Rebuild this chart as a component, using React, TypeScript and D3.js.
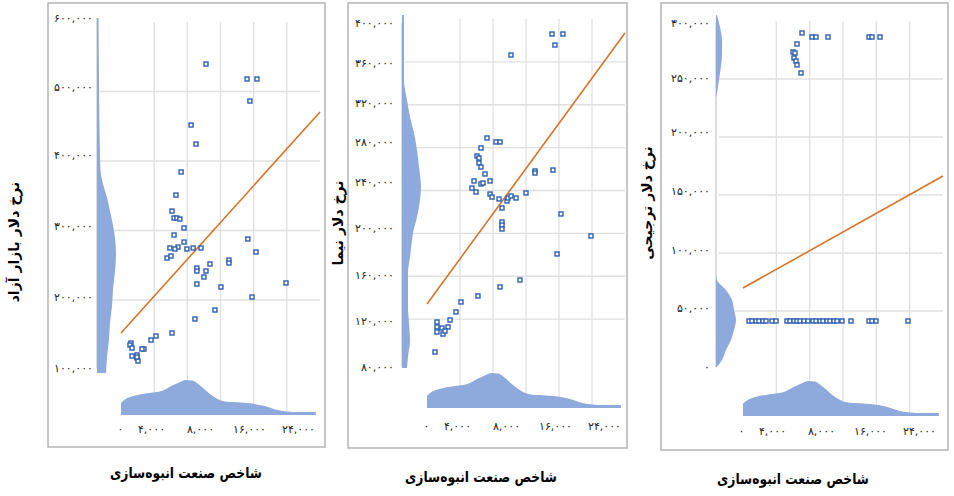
import React, { useEffect, useRef } from "react";
import * as d3 from "d3";

// shared x variable: mass-housing industry index
const xTitle = "شاخص صنعت انبوه‌سازی";
const xTickValues = [0, 4000, 8000, 16000, 24000];

// bottom marginal density of the index [index, density]
const indexDensity: [number, number][] = [
  [0, 12], [600, 16], [1600, 19], [3200, 21.5], [5000, 24], [6200, 29], [7000, 32],
  [7800, 34.5], [8600, 34], [9400, 30], [10400, 23], [11400, 17], [12400, 13.5],
  [14000, 12.5], [15600, 11.5], [17200, 9], [18600, 5.5], [20000, 3.5], [21500, 3], [23500, 3],
];

// panel 1: free market dollar rate
const freeTicks = [100000, 200000, 300000, 400000, 500000, 600000];
const freePoints: [number, number][] = [
  [10250, 539500], [15200, 518000], [16400, 518000], [15550, 486300], [8450, 451800],
  [9050, 424400], [7250, 384200], [6630, 351000], [6150, 328000], [6400, 318000],
  [6750, 318000], [7100, 316500], [7600, 303600], [6400, 293500], [7600, 283400],
  [5900, 274800], [6870, 276200], [6500, 273400], [7950, 273400], [8700, 274800],
  [9650, 274800], [5550, 260400], [6030, 263300], [9150, 246000], [9150, 241700],
  [10730, 251800], [10250, 241700], [10000, 233100], [9150, 223000], [12050, 218700],
  [13020, 257500], [13020, 253200], [15300, 287800], [16280, 269100], [19900, 224500],
  [15800, 204300], [11330, 185600], [8920, 172700], [6150, 152500], [4220, 148200],
  [3620, 142400], [2770, 129500], [2530, 129500], [1200, 138100], [1080, 135200],
  [1330, 130900], [1330, 119400], [1930, 120900], [1930, 116500], [2050, 112200],
  [1930, 118000],
];
const freeTrend: [number, number][] = [[0, 152500], [24000, 470500]];
const freeDensity: [number, number][] = [
  [93000, 9], [116000, 10], [140000, 12], [164000, 13], [187000, 15], [211000, 16],
  [236000, 18], [259000, 19], [283000, 18], [301000, 16], [321000, 13], [340000, 10],
  [359000, 6], [379000, 3.5], [397000, 3], [510000, 2], [600000, 1.5],
];

// panel 2: NIMA dollar rate
const nimaTicks = [80000, 120000, 160000, 200000, 240000, 280000, 320000, 360000, 400000];
const nimaPoints: [number, number][] = [
  [15150, 386000], [16480, 386000], [15510, 375700], [10180, 366400], [7270, 289000],
  [8360, 285300], [8850, 285300], [6540, 279700], [6060, 272200], [6300, 270300],
  [6300, 265700], [6540, 261900], [7030, 255400], [5700, 248900], [7640, 248900],
  [6540, 246100], [6790, 247000], [5450, 242300], [5940, 238600], [7640, 236700],
  [7880, 233900], [8730, 232100], [9090, 223700], [9700, 230200], [9820, 233000],
  [10180, 234900], [10790, 233000], [12000, 237700], [13090, 258200], [13090, 256300],
  [15270, 259100], [16240, 218100], [9090, 210600], [9090, 207800], [9090, 204100],
  [19880, 197600], [15760, 180800], [11270, 156500], [8850, 150000], [6180, 141600],
  [4120, 136000], [3510, 126700], [2790, 119200], [2550, 112700], [1210, 117300],
  [1210, 112700], [1210, 108000], [1820, 111700], [1940, 106100], [2180, 108900],
  [970, 89300],
];
const nimaTrend: [number, number][] = [[0, 134100], [24000, 386900]];
const nimaDensity: [number, number][] = [
  [79100, 5], [88600, 6], [103400, 8], [118100, 7], [131900, 6], [146600, 6],
  [161300, 6], [175100, 8], [189800, 10], [195900, 11], [209700, 15], [224400, 18],
  [235700, 19], [255100, 17], [272200, 15], [289300, 12], [305400, 8], [322500, 5],
  [342600, 2], [408000, 2],
];

// panel 3: preferential dollar rate
const prefTicks = [0, 50000, 100000, 150000, 200000, 250000, 300000];
const prefPoints: [number, number][] = [
  [7080, 289700], [8280, 286200], [8760, 286200], [10200, 286200], [15120, 286200],
  [15480, 286200], [16440, 286200], [6480, 280200], [6000, 273300], [6240, 272400],
  [6120, 268100], [6360, 265500], [6480, 262100], [6960, 255200],
  [720, 41400], [1080, 41400], [1560, 41400], [1920, 41400], [2400, 41400],
  [2760, 41400], [3480, 41400], [3960, 41400], [5280, 41400], [5640, 41400],
  [6120, 41400], [6480, 41400], [6840, 41400], [7320, 41400], [7800, 41400],
  [8400, 41400], [8760, 41400], [9240, 41400], [9600, 41400], [10080, 41400],
  [10440, 41400], [10920, 41400], [11280, 41400], [11880, 41400], [12960, 41400],
  [15120, 41400], [15480, 41400], [15960, 41400], [19800, 41400],
];
const prefTrend: [number, number][] = [[0, 69800], [24000, 166400]];
const prefDensity: [number, number][] = [
  [0, 1], [6000, 6], [14500, 10], [23000, 15], [31500, 18], [40000, 20], [48500, 18],
  [57000, 16], [65500, 10], [74000, 1], [80000, 0], [230000, 0], [236000, 1],
  [248000, 3], [260000, 5], [272000, 6], [284000, 6], [296000, 4], [307000, 1],
];

const panels = [
  {
    title: "نرخ دلار بازار آزاد", ticks: freeTicks, points: freePoints, trend: freeTrend, density: freeDensity,
    frame: [48, 3, 325, 447], titleX: 15, titleY: 242, xTitleX: 186, xTitleY: 473,
    x: [121, 320], y: [369.5, 22], labelBreak: 400000, labelY: [368, 155, 18], labelRight: 93,
    sideLeft: 97, sideMax: 19, base: 415, xLabelX: 120, xLabelY: 430,
  },
  {
    title: "نرخ دلار نیما", ticks: nimaTicks, points: nimaPoints, trend: nimaTrend, density: nimaDensity,
    frame: [348, 3, 627, 448], titleX: 339, titleY: 223, xTitleX: 481, xTitleY: 477,
    x: [427, 625], y: [362, 19], labelBreak: 240000, labelY: [367, 182, 23], labelRight: 394,
    sideLeft: 402, sideMax: 19, base: 408, xLabelX: 426, xLabelY: 427,
  },
  {
    title: "نرخ دلار ترجیحی", ticks: prefTicks, points: prefPoints, trend: prefTrend, density: prefDensity,
    frame: [661, 3, 948, 450], titleX: 648, titleY: 203, xTitleX: 793, xTitleY: 479,
    x: [743, 943], y: [369, 21], labelBreak: 200000, labelY: [367, 132, 23], labelRight: 710,
    sideLeft: 716, sideMax: 20, base: 416, xLabelX: 741, xLabelY: 432,
  },
];

const fa = (n: number) => d3.format(",")(n).replace(/\d/g, (d) => "۰۱۲۳۴۵۶۷۸۹"[+d]);
const FONT = "DejaVu Sans";

function Panel({ p }: { p: (typeof panels)[number] }) {
  const ref = useRef<SVGGElement>(null);

  useEffect(() => {
    const g = d3.select(ref.current);
    g.selectAll("*").remove();
    const t = p.ticks;

    // scales
    const xScale = d3.scaleLinear().domain([0, 24000]).range(p.x);
    const yScale = d3.scaleLinear().domain([t[0], t[t.length - 1]]).range(p.y);
    const labelScale = d3.scaleLinear().domain([t[0], p.labelBreak, t[t.length - 1]]).range(p.labelY);
    const idxScale = d3.scaleLinear().domain([0, 1, 4]).range([p.xLabelX, p.xLabelX + 31, p.xLabelX + 178]);
    const sideW = d3.scaleLinear().domain([0, d3.max(p.density, (d) => d[1])!]).range([0, p.sideMax]);
    const bottomH = d3.scaleLinear().domain([0, d3.max(indexDensity, (d) => d[1])!]).range([0, 35]);

    const [fx0, fy0, fx1, fy1] = p.frame;
    g.append("rect")
      .attr("x", fx0).attr("y", fy0).attr("width", fx1 - fx0).attr("height", fy1 - fy0)
      .attr("fill", "white").attr("stroke", "#b4b4b4").attr("stroke-width", 1.5);

    // grid
    const gridLeft = p.sideLeft + 3;
    g.append("g").selectAll("line").data(t.slice(1, -1)).join("line")
      .attr("x1", gridLeft).attr("x2", p.x[1])
      .attr("y1", (d) => yScale(d)).attr("y2", (d) => yScale(d))
      .attr("stroke", "#e0e0e0").attr("stroke-width", 1.3);
    g.append("g").selectAll("line").data(d3.range(4000, 24000, 4000)).join("line")
      .attr("x1", (d) => xScale(d)).attr("x2", (d) => xScale(d))
      .attr("y1", p.y[1]).attr("y2", p.base)
      .attr("stroke", "#e0e0e0").attr("stroke-width", 1.3);

    // left axis line
    g.append("line")
      .attr("x1", p.sideLeft).attr("x2", p.sideLeft)
      .attr("y1", labelScale(t[t.length - 1])).attr("y2", labelScale(t[0]))
      .attr("stroke", "#c8c8c8").attr("stroke-width", 1.2);

    // marginal densities
    const side = d3.area<[number, number]>()
      .y((d) => labelScale(d[0]))
      .x0(p.sideLeft)
      .x1((d) => p.sideLeft + sideW(d[1]))
      .curve(d3.curveMonotoneY);
    g.append("path").datum(p.density).attr("d", side).attr("fill", "#8eaadc");

    const bottom = d3.area<[number, number]>()
      .x((d) => xScale(d[0]))
      .y0(p.base)
      .y1((d) => p.base - bottomH(d[1]))
      .curve(d3.curveMonotoneX);
    g.append("path").datum(indexDensity).attr("d", bottom).attr("fill", "#8eaadc");

    // trend line
    g.append("path").datum(p.trend)
      .attr("d", d3.line<[number, number]>().x((d) => xScale(d[0])).y((d) => yScale(d[1])))
      .attr("fill", "none").attr("stroke", "#d8742a").attr("stroke-width", 1.6);

    // points
    g.append("g").selectAll("rect").data(p.points).join("rect")
      .attr("x", (d) => xScale(d[0]) - 2).attr("y", (d) => yScale(d[1]) - 2)
      .attr("width", 4).attr("height", 4)
      .attr("fill", "white").attr("stroke", "#2f5eb2").attr("stroke-width", 1.4);

    // axes labels
    const yAxis = d3.axisLeft(labelScale).tickValues(t).tickFormat((d) => fa(+d)).tickSize(0).tickPadding(0);
    const ya = g.append("g").attr("transform", `translate(${p.labelRight},0)`).call(yAxis);
    ya.select(".domain").remove();
    ya.selectAll("text").attr("font-family", FONT).attr("font-size", 11).attr("fill", "#222");

    const xAxis = d3.axisBottom(idxScale).tickValues(d3.range(xTickValues.length))
      .tickFormat((i) => fa(xTickValues[+i])).tickSize(0).tickPadding(0);
    const xa = g.append("g").attr("transform", `translate(0,${p.xLabelY - 5})`).call(xAxis);
    xa.select(".domain").remove();
    xa.selectAll("text").attr("font-family", FONT).attr("font-size", 11).attr("fill", "#222");

    // titles
    g.append("text")
      .attr("transform", `translate(${p.titleX},${p.titleY}) rotate(-90)`)
      .attr("text-anchor", "middle").attr("dominant-baseline", "middle")
      .attr("font-family", FONT).attr("font-weight", "bold").attr("font-size", 14)
      .text(p.title);
    g.append("text")
      .attr("x", p.xTitleX).attr("y", p.xTitleY)
      .attr("text-anchor", "middle").attr("dominant-baseline", "middle")
      .attr("font-family", FONT).attr("font-weight", "bold").attr("font-size", 15)
      .attr("textLength", 152).attr("lengthAdjust", "spacingAndGlyphs")
      .text(xTitle);
  }, [p]);

  return <g ref={ref} />;
}

export default function App() {
  return (
    <svg width={954} height={496} style={{ position: "absolute", left: 0, top: 0, background: "white" }}>
      {panels.map((p, i) => (
        <Panel key={i} p={p} />
      ))}
    </svg>
  );
}
